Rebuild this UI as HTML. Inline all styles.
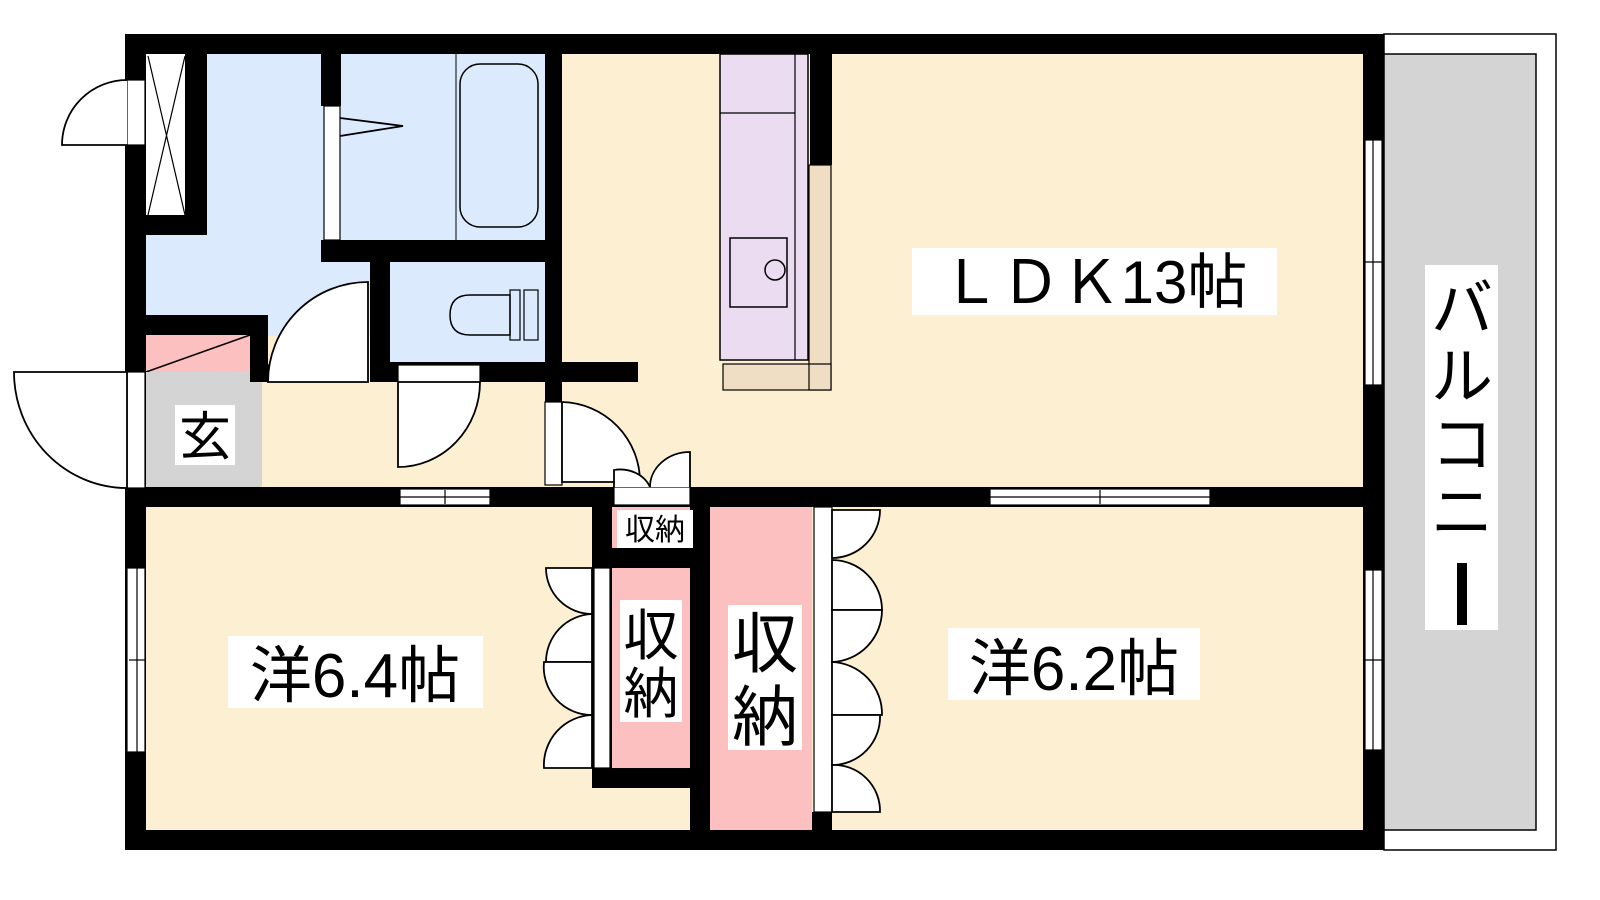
<!DOCTYPE html>
<html><head><meta charset="utf-8"><style>
html,body{margin:0;padding:0;background:#fff}
svg{display:block}
text{font-family:"Liberation Sans","Noto Sans CJK JP",sans-serif;fill:#000}
</style></head><body>
<svg width="1600" height="900" viewBox="0 0 1600 900" xmlns="http://www.w3.org/2000/svg">
<rect width="1600" height="900" fill="#fff"/>
<rect x="1384" y="34" width="172" height="816" fill="#fff" stroke="#000" stroke-width="1.5"/>
<rect x="1384" y="54" width="152" height="776" fill="#d4d4d4" stroke="#000" stroke-width="1.5"/>
<rect x="146" y="54" width="1217" height="776" fill="#fdf0d2"/>
<rect x="146" y="54" width="399" height="282" fill="#dbebfd"/>
<rect x="390" y="262" width="155" height="100" fill="#dbebfd"/>
<rect x="146" y="335" width="104" height="37" fill="#fdc0c0"/>
<line x1="146" y1="372" x2="250" y2="335" stroke="#000" stroke-width="1.5"/>
<rect x="146" y="372" width="116" height="115" fill="#d4d4d4"/>
<rect x="146" y="54" width="39" height="161" fill="#fff"/>
<path d="M148 56 L185 215 M185 56 L148 215" stroke="#000" stroke-width="1.2" fill="none"/>
<rect x="612" y="507" width="78" height="41" fill="#fdc0c0"/>
<rect x="612" y="568" width="78" height="200" fill="#fdc0c0"/>
<rect x="710" y="507" width="102" height="323" fill="#fdc0c0"/>
<line x1="456" y1="54" x2="456" y2="240" stroke="#000" stroke-width="1"/>
<rect x="460" y="64" width="78" height="163" rx="20" fill="none" stroke="#000" stroke-width="1.5"/>
<path d="M510 295 L470 295 Q450 295 450 315 Q450 335 470 335 L510 335 Z" fill="none" stroke="#000" stroke-width="1.5"/>
<rect x="510" y="290" width="10" height="50" fill="none" stroke="#000" stroke-width="1.2"/>
<rect x="524" y="290" width="14" height="50" fill="none" stroke="#000" stroke-width="1.2"/>
<rect x="720" y="54" width="88" height="306" fill="#ecdcf2" stroke="#000" stroke-width="1.5"/>
<line x1="795" y1="54" x2="795" y2="360" stroke="#000" stroke-width="1.2"/>
<line x1="720" y1="113" x2="795" y2="113" stroke="#000" stroke-width="1.2"/>
<rect x="730" y="238" width="57" height="69" fill="none" stroke="#000" stroke-width="1.5"/>
<circle cx="775" cy="270" r="10" fill="none" stroke="#000" stroke-width="1.5"/>
<rect x="809" y="165" width="22" height="225" fill="#efdec4" stroke="#000" stroke-width="1.2"/>
<rect x="723" y="364" width="108" height="26" fill="#efdec4" stroke="#000" stroke-width="1.2"/>
<line x1="809" y1="364" x2="809" y2="390" stroke="#000" stroke-width="1.2"/>
<g fill="#000">
<rect x="125" y="34" width="1259" height="20"/>
<rect x="125" y="830" width="1259" height="20"/>
<rect x="125" y="34" width="21" height="816"/>
<rect x="1363" y="34" width="21" height="816"/>
<rect x="185" y="54" width="22" height="181"/>
<rect x="146" y="215" width="61" height="20"/>
<rect x="321" y="54" width="20" height="52"/>
<rect x="321" y="240" width="224" height="22"/>
<rect x="545" y="34" width="17" height="351"/>
<rect x="370" y="262" width="20" height="120"/>
<rect x="370" y="362" width="268" height="20"/>
<rect x="146" y="315" width="122" height="20"/>
<rect x="250" y="315" width="18" height="67"/>
<rect x="810" y="54" width="22" height="111"/>
<rect x="545" y="382" width="17" height="20"/>
<rect x="125" y="487" width="1238" height="20"/>
<rect x="592" y="487" width="20" height="301"/>
<rect x="592" y="548" width="98" height="20"/>
<rect x="592" y="768" width="98" height="20"/>
<rect x="690" y="487" width="20" height="343"/>
<rect x="812" y="812" width="20" height="18"/>
</g>
<g fill="#fff" stroke="#000" stroke-width="1.2">
<rect x="127" y="80" width="18" height="65"/>
<rect x="127" y="372" width="18" height="116"/>
<rect x="127" y="568" width="18" height="184"/>
<rect x="324" y="106" width="16" height="134"/>
<rect x="268" y="365" width="100" height="17"/>
<rect x="398" y="365" width="82" height="17"/>
<rect x="545" y="402" width="17" height="83"/>
<rect x="400" y="489" width="90" height="16"/>
<rect x="990" y="489" width="220" height="16"/>
<rect x="614" y="487" width="76" height="18"/>
<rect x="594" y="568" width="16" height="200"/>
<rect x="814" y="507" width="18" height="305"/>
<rect x="1365" y="140" width="17" height="245"/>
<rect x="1365" y="570" width="17" height="180"/>
</g>
<g stroke="#000" stroke-width="1.2" fill="none">
<line x1="137" y1="568" x2="137" y2="752"/><line x1="129" y1="660" x2="145" y2="660"/>
<line x1="1373" y1="140" x2="1373" y2="385"/><line x1="1365" y1="262" x2="1382" y2="262"/>
<line x1="1373" y1="570" x2="1373" y2="750"/><line x1="1365" y1="660" x2="1382" y2="660"/>
<line x1="400" y1="497" x2="490" y2="497"/><line x1="445" y1="490" x2="445" y2="504"/>
<line x1="990" y1="497" x2="1210" y2="497"/><line x1="1100" y1="490" x2="1100" y2="504"/>
</g>
<g stroke="#000" stroke-width="1.8" fill="#fff">
<path d="M127 80 A65 65 0 0 0 62 145 L127 145"/>
<path d="M14 372 L127 372 L127 488 A113 116 0 0 1 14 372 Z"/>
<path d="M368 382 L268 382 A100 100 0 0 1 368 282 Z"/>
<path d="M398 382 L480 382 A82 85 0 0 1 398 467 Z"/>
<path d="M562 402 A80 80 0 0 1 640 482 L562 482 Z"/>
<path d="M340 118 L403 126 L340 136" fill="none"/>
<path d="M614 487 L614 470 A32 28 0 0 1 650 487" />
<path d="M690 487 L690 452 A40 35 0 0 0 650 487" />
<!-- left closet doors -->
<path d="M592 568 L546 568 A46 46 0 0 0 592 614 Z"/>
<path d="M592 662 L546 662 A48 48 0 0 1 592 614 Z"/>
<path d="M592 662 L544 662 A48 48 0 0 0 592 715 Z"/>
<path d="M592 768 L544 768 A50 50 0 0 1 592 715 Z"/>
<!-- right closet doors -->
<path d="M832 510 L880 510 A48 48 0 0 1 832 558 Z"/>
<path d="M832 610 L882 610 A50 50 0 0 0 832 560 Z"/>
<path d="M832 610 L882 610 A52 52 0 0 1 832 662 Z"/>
<path d="M832 715 L882 715 A52 52 0 0 0 832 662 Z"/>
<path d="M832 715 L880 715 A48 48 0 0 1 832 765 Z"/>
<path d="M832 812 L880 812 A46 46 0 0 0 832 765 Z"/>
</g>
<rect x="175" y="405" width="60" height="60" fill="#fff"/>
<text x="205" y="455" font-size="52" text-anchor="middle">玄</text>
<rect x="912" y="248" width="365" height="67" fill="#fff"/>
<text x="1094" y="303" font-size="60" text-anchor="middle">ＬＤＫ13帖</text>
<rect x="228" y="636" width="255" height="72" fill="#fff"/>
<text x="355" y="697" font-size="62" text-anchor="middle">洋6.4帖</text>
<rect x="948" y="628" width="252" height="72" fill="#fff"/>
<text x="1074" y="690" font-size="62" text-anchor="middle">洋6.2帖</text>
<rect x="617" y="510" width="76" height="38" fill="#fff"/>
<text x="655" y="540" font-size="30" text-anchor="middle">収納</text>
<rect x="620" y="600" width="62" height="122" fill="#fff"/>
<text x="651" y="655" font-size="55" text-anchor="middle">収</text>
<text x="651" y="713" font-size="55" text-anchor="middle">納</text>
<rect x="728" y="605" width="74" height="145" fill="#fff"/>
<text x="765" y="667" font-size="66" text-anchor="middle">収</text>
<text x="765" y="740" font-size="66" text-anchor="middle">納</text>
<rect x="1425" y="265" width="73" height="365" fill="#fff"/>
<text x="1462" y="330" font-size="62" text-anchor="middle">バ</text>
<text x="1462" y="398" font-size="62" text-anchor="middle">ル</text>
<text x="1462" y="466" font-size="62" text-anchor="middle">コ</text>
<text x="1462" y="534" font-size="62" text-anchor="middle">ニ</text>
<rect x="1457" y="563" width="10" height="62" fill="#000"/>
</svg>
</body></html>
